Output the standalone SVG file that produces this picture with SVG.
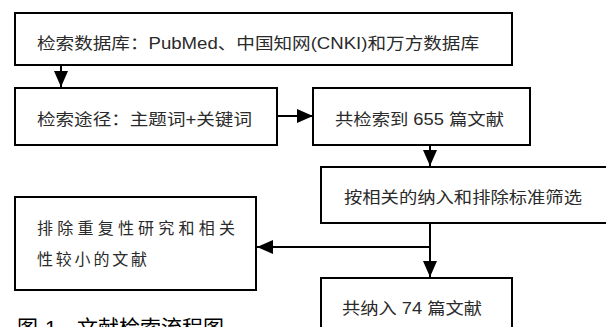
<svg xmlns="http://www.w3.org/2000/svg" width="606" height="327" viewBox="0 0 606 327">
<style>
.box{fill:#fff;stroke:#000;stroke-width:2}
.t{font-family:"Liberation Sans","Noto Sans CJK SC",sans-serif;font-size:16px;fill:#2a2a2a}
.cap{font-family:"Liberation Sans","Noto Sans CJK SC",sans-serif;font-size:21px;fill:#000}
.c{stroke:#000;stroke-width:2;fill:none}
</style>
<defs>
<marker id="ah" markerUnits="userSpaceOnUse" markerWidth="16" markerHeight="16" viewBox="0 0 16 16" refX="16" refY="8" orient="auto">
<path d="M0,1 L16,8 L0,15 Z" fill="#000"/>
</marker>
</defs>
<rect width="606" height="327" fill="#fff"/>
<g id="n1"><rect class="box" x="15" y="13" width="497" height="52"/>
<text class="t" x="37" y="49" textLength="442" lengthAdjust="spacingAndGlyphs">检索数据库：PubMed、中国知网(CNKI)和万方数据库</text></g>
<g id="n2"><rect class="box" x="15" y="88" width="262" height="57"/>
<text class="t" x="37" y="125" textLength="215" lengthAdjust="spacingAndGlyphs">检索途径：主题词+关键词</text></g>
<g id="n3"><rect class="box" x="313" y="88" width="217" height="57"/>
<text class="t" x="335" y="125" textLength="169" lengthAdjust="spacingAndGlyphs">共检索到 655 篇文献</text></g>
<g id="n4"><rect class="box" x="321" y="167" width="300" height="56"/>
<text class="t" x="344" y="203" textLength="238" lengthAdjust="spacingAndGlyphs">按相关的纳入和排除标准筛选</text></g>
<g id="n5"><rect class="box" x="15" y="197" width="241" height="93"/>
<text class="t" x="37" y="234" textLength="198" lengthAdjust="spacing">排除重复性研究和相关</text>
<text class="t" x="37" y="265" textLength="110" lengthAdjust="spacing">性较小的文献</text></g>
<g id="n6"><rect class="box" x="321" y="278" width="191" height="60"/>
<text class="t" x="342" y="314" textLength="140" lengthAdjust="spacingAndGlyphs">共纳入 74 篇文献</text></g>
<g id="connectors">
<line class="c" x1="61" y1="65" x2="61" y2="87" marker-end="url(#ah)"/>
<line class="c" x1="277" y1="116" x2="313" y2="116" marker-end="url(#ah)"/>
<line class="c" x1="430" y1="145" x2="430" y2="166" marker-end="url(#ah)"/>
<line class="c" x1="430" y1="223" x2="430" y2="277" marker-end="url(#ah)"/>
<line class="c" x1="430" y1="247" x2="257" y2="247" marker-end="url(#ah)"/>
</g>
<text class="cap" y="335"><tspan x="17">图</tspan><tspan x="45">1</tspan><tspan x="77" textLength="147" lengthAdjust="spacing">文献检索流程图</tspan></text>
</svg>
